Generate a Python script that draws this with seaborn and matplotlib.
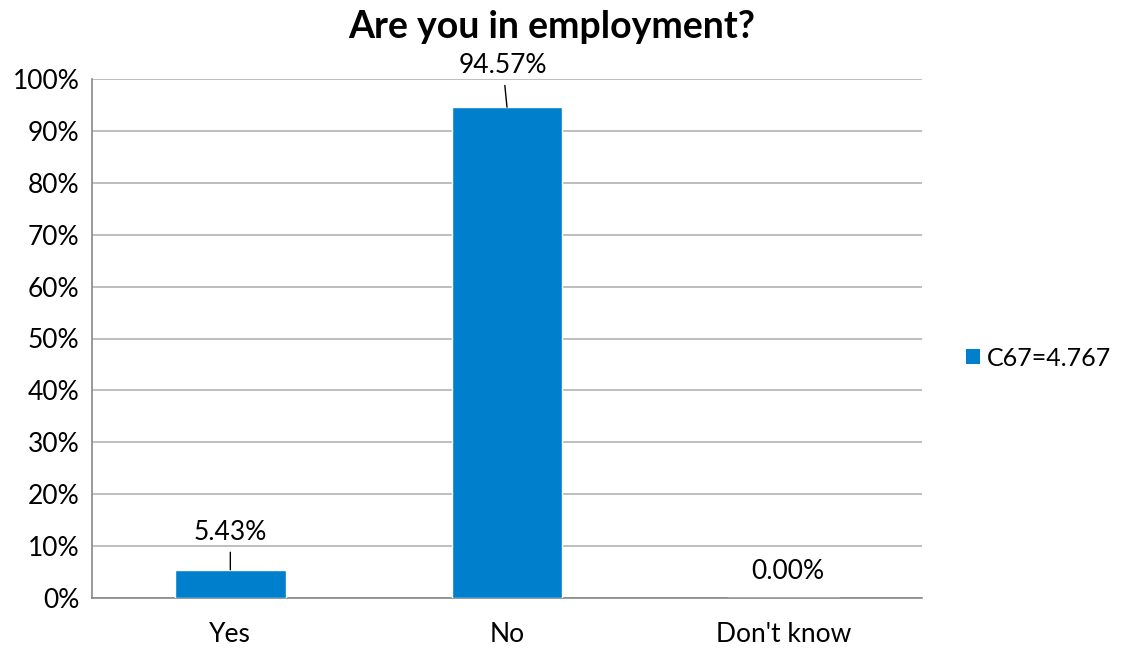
import matplotlib
matplotlib.use("Agg")
import matplotlib.pyplot as plt
import seaborn as sns
import pandas as pd
from matplotlib.patches import Patch

categories = ["Yes", "No", "Don't know"]
shares = [5.43, 94.57, 0.00]
series_name = "C67=4.767"
y_ticks = list(range(0, 101, 10))

sns.set_style("white")
plt.rcParams["font.family"] = ["Lato", "DejaVu Sans"]
plt.rcParams["text.color"] = "black"

df = pd.DataFrame({"answer": categories, "share": shares})

fig = plt.figure(figsize=(11.21, 6.48), dpi=100)
ax = fig.add_axes([92 / 1121, 1 - 598 / 648, (922 - 92) / 1121, (598 - 79) / 648])

sns.barplot(data=df, x="answer", y="share", color="#0080CC", width=0.4,
            saturation=1, ax=ax, zorder=3)

ax.set_ylim(0, 100)
ax.set_xlim(-0.5, len(categories) - 0.5)
ax.set_yticks(y_ticks)
ax.set_yticklabels([f"{t}%" for t in y_ticks])
ax.yaxis.grid(True, color="#b3b3b3", linewidth=1.2, zorder=0)
ax.set_axisbelow(True)
ax.set_xlabel("")
ax.set_ylabel("")

# category boundary ticks on x axis
ax.set_xticks([i for i in range(len(categories))])
ax.set_xticklabels(categories)
ax.tick_params(axis="x", length=0, labelsize=19, pad=17, labelcolor="black")
ax.set_xticks([i - 0.5 for i in range(len(categories) + 1)], minor=True)
ax.tick_params(axis="x", which="minor", length=7, width=1.2, color="#888888")
ax.tick_params(axis="y", length=6, width=1.2, color="#888888", labelsize=19,
               pad=3, labelcolor="black")

for side in ["top", "right"]:
    ax.spines[side].set_visible(False)
for side in ["left", "bottom"]:
    ax.spines[side].set_color("#888888")
    ax.spines[side].set_linewidth(1.2)

# data labels with leader lines
for i, v in enumerate(shares):
    if v > 0:
        dx = 0 if v < 50 else -3
        dy = 27 if v < 50 else 30
        ax.annotate(f"{v:.2f}%", xy=(i, v), xytext=(dx, dy), textcoords="offset points",
                    ha="center", va="center", fontsize=19, color="black",
                    arrowprops=dict(arrowstyle="-", color="black", lw=1,
                                    shrinkA=3, shrinkB=0))
    else:
        ax.annotate(f"{v:.2f}%", xy=(i, v), xytext=(3, 19), textcoords="offset points",
                    ha="center", va="center", fontsize=19, color="black")

fig.text(552 / 1121, 1 - 27 / 648, "Are you in employment?",
         fontsize=27, fontweight="bold", ha="center", va="center", color="black")

handle = Patch(facecolor="#0080CC", edgecolor="none")
ax.legend([handle], [series_name], loc="center left", bbox_to_anchor=(1.053, 0.462),
          borderaxespad=0, borderpad=0, frameon=False, fontsize=18,
          handlelength=0.55, handleheight=0.55, handletextpad=0.3,
          labelcolor="black")

fig.savefig("out.png", dpi=100)
